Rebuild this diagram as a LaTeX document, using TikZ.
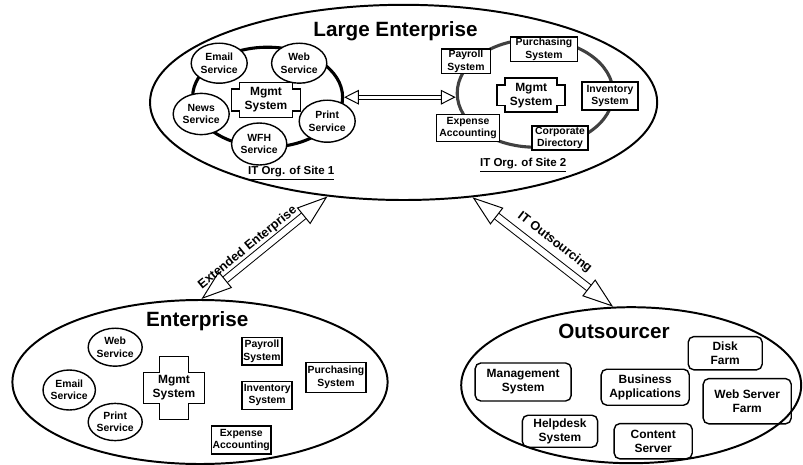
\documentclass[tikz,border=0pt]{standalone}
\usepackage{fontspec}
\setmainfont{Liberation Sans}
\usetikzlibrary{shapes.geometric,arrows.meta}
\pgfdeclarelayer{bg}
\pgfsetlayers{bg,main}
\tikzset{
    every node/.style={inner sep=0mm, align=center, font=\bfseries\fontsize{7.4}{8.7}\selectfont}
}
\tikzset{
    org/.style={ellipse, draw, line width=1.4pt},
    ring/.style={ellipse, draw, line width=2.2pt},
    svc/.style={ellipse, draw, fill=white, line width=1pt},
    sys/.style={rectangle, draw, fill=white, line width=1pt},
    mgmt/.style={rectangle, outer sep=0pt, font=\bfseries\fontsize{8.5}{10}\selectfont},
    host/.style={rectangle, draw, rounded corners=1.4mm, line width=1pt,
        font=\bfseries\fontsize{8.5}{10}\selectfont},
    title/.style={font=\bfseries\fontsize{14.7}{17}\selectfont},
    site/.style={font=\bfseries\fontsize{8.2}{10}\selectfont},
    link/.style={double, line width=0.7pt, double distance=4.3pt,
        {Triangle[fill=white, length=22pt, width=15pt]}-{Triangle[fill=white, length=22pt, width=15pt]}},
    bridge/.style={double, line width=0.7pt, double distance=2.1pt,
        {Triangle[fill=white, length=10.5pt, width=10.5pt]}-{Triangle[fill=white, length=10.5pt, width=10.5pt]}}
}
\newcommand{\mgmtcross}[3]{%
    \draw[line width=1.2pt]
        ([xshift=#2]#1.north west) -- ([xshift=-#2]#1.north east)
        -- ([xshift=-#2, yshift=-#3]#1.north east) -- ([yshift=-#3]#1.north east)
        -- ([yshift=#3]#1.south east) -- ([xshift=-#2, yshift=#3]#1.south east)
        -- ([xshift=-#2]#1.south east) -- ([xshift=#2]#1.south west)
        -- ([xshift=#2, yshift=#3]#1.south west) -- ([yshift=#3]#1.south west)
        -- ([yshift=-#3]#1.north west) -- ([xshift=#2, yshift=-#3]#1.north west)
        -- cycle;
}

\begin{document}
\begin{tikzpicture}
    \useasboundingbox (0cm, 0cm) rectangle (20.075cm, -11.625cm);

    % large enterprise
    \node (large) at (10.09cm, -2.56cm) [org, minimum width=12.68cm, minimum height=4.88cm] {};
    \node (largett) at (9.89cm, -0.78cm) [title] {Large Enterprise};

    \begin{pgfonlayer}{bg}
        \node (ring1) at (6.69cm, -2.43cm) [ring, minimum width=3.75cm, minimum height=2.5cm] {};
        \node (ring2) at (13.38cm, -2.33cm) [ring, draw=black!75, minimum width=3.9cm, minimum height=2.7cm] {};
    \end{pgfonlayer}

    \node (email1) at (5.48cm, -1.58cm) [svc, minimum width=1.4cm, minimum height=1.0cm] {Email\\Service};
    \node (web1) at (7.48cm, -1.58cm) [svc, minimum width=1.38cm, minimum height=1.0cm] {Web\\Service};
    \node (news1) at (5.03cm, -2.85cm) [svc, minimum width=1.4cm, minimum height=1.03cm] {News\\Service};
    \node (wfh1) at (6.48cm, -3.6cm) [svc, minimum width=1.38cm, minimum height=1.05cm] {WFH\\Service};
    \node (print1) at (8.18cm, -3.03cm) [svc, minimum width=1.4cm, minimum height=1.05cm] {Print\\Service};
    \node (mgmt1) at (6.65cm, -2.5cm) [mgmt, minimum width=1.73cm, minimum height=0.88cm] {Mgmt\\System};
    \mgmtcross{mgmt1}{0.2cm}{0.17cm}
    \node (site1) at (7.28cm, -4.33cm) [site] {\underline{IT Org. of Site 1}};

    \node (payroll2) at (11.65cm, -1.53cm) [sys, minimum width=1.23cm, minimum height=0.6cm] {Payroll\\System};
    \node (purch2) at (13.6cm, -1.23cm) [sys, minimum width=1.68cm, minimum height=0.6cm] {Purchasing\\System};
    \node (mgmt2) at (13.28cm, -2.38cm) [mgmt, minimum width=1.7cm, minimum height=0.85cm] {Mgmt\\System};
    \mgmtcross{mgmt2}{0.2cm}{0.17cm}
    \node (inv2) at (15.25cm, -2.4cm) [sys, minimum width=1.4cm, minimum height=0.7cm] {Inventory\\System};
    \node (exp2) at (11.7cm, -3.2cm) [sys, minimum width=1.58cm, minimum height=0.68cm] {Expense\\Accounting};
    \node (corp2) at (14.0cm, -3.45cm) [sys, minimum width=1.4cm, minimum height=0.6cm] {Corporate\\Directory};
    \node (site2) at (13.08cm, -4.13cm) [site] {\underline{IT Org. of Site 2}};

    \draw[bridge] (ring1.east) -- (ring1.east -| ring2.west);

    % enterprise
    \node (ent) at (5.0cm, -9.55cm) [org, minimum width=9.38cm, minimum height=4.1cm] {};
    \node (enttt) at (4.93cm, -8.03cm) [title] {Enterprise};

    \node (web3) at (2.88cm, -8.68cm) [svc, minimum width=1.35cm, minimum height=0.95cm] {Web\\Service};
    \node (email3) at (1.73cm, -9.75cm) [svc, minimum width=1.18cm, minimum height=1.0cm] {Email\\Service};
    \node (print3) at (2.88cm, -10.55cm) [svc, minimum width=1.35cm, minimum height=0.93cm] {Print\\Service};
    \node (mgmt3) at (4.35cm, -9.7cm) [mgmt, minimum width=1.53cm, minimum height=1.58cm] {Mgmt\\System};
    \mgmtcross{mgmt3}{0.4cm}{0.4cm}
    \node (payroll3) at (6.55cm, -8.78cm) [sys, minimum width=1.0cm, minimum height=0.68cm] {Payroll\\System};
    \node (inv3) at (6.68cm, -9.88cm) [sys, minimum width=1.25cm, minimum height=0.7cm] {Inventory\\System};
    \node (purch3) at (8.4cm, -9.43cm) [sys, minimum width=1.5cm, minimum height=0.75cm] {Purchasing\\System};
    \node (exp3) at (6.03cm, -11.0cm) [sys, minimum width=1.48cm, minimum height=0.7cm] {Expense\\Accounting};

    % outsourcer
    \node (outs) at (15.78cm, -9.63cm) [org, minimum width=8.5cm, minimum height=3.9cm] {};
    \node (outstt) at (15.35cm, -8.28cm) [title] {Outsourcer};

    \node (mgmt4) at (13.08cm, -9.55cm) [host, minimum width=2.4cm, minimum height=0.95cm] {Management\\System};
    \node (bus4) at (16.13cm, -9.68cm) [host, minimum width=2.2cm, minimum height=0.9cm] {Business\\Applications};
    \node (disk4) at (18.13cm, -8.83cm) [host, minimum width=1.85cm, minimum height=0.83cm] {Disk\\Farm};
    \node (farm4) at (18.68cm, -10.03cm) [host, minimum width=2.2cm, minimum height=1.13cm] {Web Server\\Farm};
    \node (help4) at (14.0cm, -10.78cm) [host, minimum width=1.88cm, minimum height=0.8cm] {Helpdesk\\System};
    \node (cont4) at (16.33cm, -11.03cm) [host, minimum width=1.95cm, minimum height=0.88cm] {Content\\Server};

    % links between the organisations
    \draw[link] (ent.89) -- node[sloped, above=3pt, pos=0.42, font=\bfseries\fontsize{9}{10}\selectfont] {Extended Enterprise} (large.231);
    \draw[link] (large.306) -- node[sloped, above=6pt, pos=0.52, font=\bfseries\fontsize{9}{10}\selectfont] {IT Outsourcing} (outs.103);
\end{tikzpicture}
\end{document}
